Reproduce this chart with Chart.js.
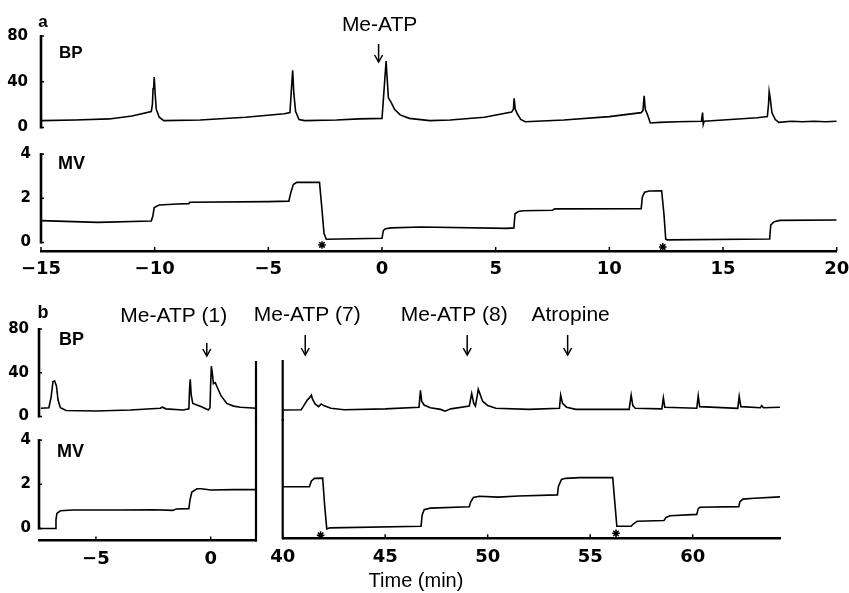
<!DOCTYPE html>
<html>
<head>
<meta charset="utf-8">
<script src="https://cdn.jsdelivr.net/npm/chart.js@4"></script>
<style>
  body { margin: 0; background: #fff; }
  #wrap { position: relative; width: 849px; height: 593px; }
  canvas { position: absolute; left: 0; top: 0; }
</style>
</head>
<body>
<div id="wrap">
  <canvas id="aBP" width="849" height="593"></canvas>
  <canvas id="aMV" width="849" height="593"></canvas>
  <canvas id="bLBP" width="849" height="593"></canvas>
  <canvas id="bLMV" width="849" height="593"></canvas>
  <canvas id="bRBP" width="849" height="593"></canvas>
  <canvas id="bRMV" width="849" height="593"></canvas>
</div>
<script>
// ---- data (time in min) ---------------------------------------------------

// panel a, blood pressure
const aBpT = [-15, -13.5, -12, -11, -10.15, -10.1, -10.07, -10.04, -10.02, -9.98, -9.93, -9.8, -9.6, -8, -6, -4.3, -4.05, -3.98, -3.93, -3.88, -3.8, -3.65, -3.4, -2, -1, 0, 0.08, 0.15, 0.18, 0.22, 0.28, 0.4, 0.55, 0.8, 1.2, 2.1, 3, 4.5, 5.7, 5.78, 5.81, 5.86, 5.95, 6.1, 6.3, 8, 10, 11.4, 11.48, 11.53, 11.58, 11.7, 11.8, 12.2, 13, 14.05, 14.1, 14.13, 14.17, 15, 16.5, 16.95, 17, 17.03, 17.08, 17.15, 17.3, 17.45, 18, 18.5, 19, 19.5, 20];
const aBpV = [6, 6.5, 7.5, 10, 14, 20, 34, 36, 44, 30, 16, 9, 6, 6.5, 9, 12, 13, 35, 50, 30, 14, 7, 6, 6.5, 7.5, 8, 30, 50, 58, 45, 26, 22, 16, 11, 8, 6, 6.5, 9, 13.5, 16, 25.5, 16, 12, 7, 5, 6.5, 9.5, 13, 15, 27.8, 16, 10, 4, 4.5, 5, 5.5, 13, 2.8, 5.5, 6.5, 8.5, 9.5, 20, 31.3, 25, 13, 7, 4.5, 5.5, 5, 5.5, 5, 5.5];

// panel a, minute volume
const aMvT = [-15, -12.5, -10.15, -10.08, -10.02, -9.8, -9, -8.5, -8.45, -5, -4.1, -4, -3.9, -3.75, -2.75, -2.65, -2.55, -2.45, 0, 0.06, 0.15, 0.4, 1.7, 5.5, 5.8, 5.85, 6, 6.2, 7.5, 7.6, 11.4, 11.45, 11.55, 11.75, 12.3, 12.4, 12.48, 12.55, 17.05, 17.1, 17.25, 17.5, 20];
const aMvV = [0.99, 0.91, 0.97, 1.2, 1.58, 1.7, 1.74, 1.76, 1.82, 1.85, 1.87, 2.3, 2.62, 2.72, 2.72, 1.6, 0.4, 0.15, 0.19, 0.55, 0.62, 0.66, 0.7, 0.64, 0.66, 1.3, 1.4, 1.44, 1.46, 1.52, 1.53, 2.05, 2.28, 2.33, 2.34, 1.3, 0.15, 0.12, 0.16, 0.8, 0.94, 1.0, 1.02];
const aStarT = [-2.64, 12.35];
const aStarV = [-0.11, -0.2];

// panel b (before), blood pressure and minute volume
const bLBpT = [-7.4, -7.05, -6.95, -6.87, -6.8, -6.72, -6.65, -6.55, -6.3, -5, -3.5, -2.2, -2.1, -1.95, -1.2, -0.95, -0.92, -0.89, -0.85, -0.78, -0.6, -0.4, -0.1, -0.03, 0, 0.03, 0.08, 0.12, 0.2, 0.3, 0.45, 0.7, 1, 1.3, 1.975];
const bLBpV = [7.5, 8, 18, 32, 32.5, 28, 15, 8, 5.5, 5, 6, 7.5, 8.5, 7, 6, 7, 25, 34, 20, 12, 10.5, 9, 6, 8, 30, 46, 38, 30, 31, 26, 19, 12, 9.5, 8.4, 7.5];
const bLMvT = [-7.48, -6.78, -6.74, -6.7, -6.55, -6, -4, -2.5, -1.65, -1.5, -0.95, -0.9, -0.82, -0.6, -0.4, 0, 1, 1.975];
const bLMvV = [0, 0, 0.4, 0.68, 0.8, 0.84, 0.84, 0.85, 0.82, 0.88, 0.9, 1.3, 1.65, 1.8, 1.8, 1.74, 1.76, 1.76];

// panel b (after), blood pressure and minute volume
const bRBpT = [40, 40.9, 41, 41.2, 41.3, 41.4, 41.45, 41.58, 41.75, 41.88, 42, 42.35, 43, 45, 46.65, 46.72, 46.78, 46.9, 47.2, 47.7, 47.92, 48.2, 49.1, 49.22, 49.32, 49.4, 49.5, 49.54, 49.6, 49.75, 50, 50.4, 52, 53.5, 53.56, 53.65, 53.85, 54.3, 56.9, 57, 57.08, 57.2, 58.5, 58.57, 58.64, 60.2, 60.27, 60.34, 62.2, 62.27, 62.35, 63.3, 63.37, 63.45, 64.26];
const bRBpV = [6, 6.2, 9, 15, 17, 19.5, 16, 11.5, 9, 11.5, 10, 7.5, 6.2, 7, 8.5, 24, 14, 10.5, 8, 6.5, 4.8, 7, 9.5, 21, 12, 9.5, 20, 25, 22, 14, 10, 7.5, 6.5, 7.5, 19.5, 12, 8.5, 6.5, 6.5, 19.5, 10, 7.5, 7, 17, 8.5, 7.5, 19, 9, 7.5, 18.5, 9, 8, 10, 8, 8.5];
const bRMvT = [40, 41.3, 41.4, 41.55, 41.95, 42.05, 42.15, 42.3, 46.75, 46.8, 46.9, 47.2, 49.1, 49.17, 49.3, 49.6, 50.5, 51.5, 53.4, 53.45, 53.6, 53.8, 54.5, 56.1, 56.3, 57, 57.1, 57.3, 58.6, 58.7, 58.9, 60.2, 60.27, 60.35, 62.25, 62.3, 62.45, 63, 64.26];
const bRMvV = [1.89, 1.89, 2.15, 2.27, 2.28, 1.0, -0.02, 0.03, 0.1, 0.6, 0.85, 0.92, 0.98, 1.2, 1.4, 1.46, 1.42, 1.47, 1.52, 1.9, 2.22, 2.27, 2.3, 2.3, 0.1, 0.1, 0.2, 0.33, 0.36, 0.5, 0.58, 0.64, 0.9, 0.96, 0.99, 1.2, 1.33, 1.37, 1.43];
const bRStarT = [41.85, 56.26];
const bRStarV = [-0.3, -0.22];

// drug injections
const aEventT = [-0.15];
const aEventLabels = ['Me-ATP'];
const bLEventT = [-0.17];
const bLEventLabels = ['Me-ATP (1)'];
const bREventT = [41.1, 49.0, 53.9];
const bREventLabels = ['Me-ATP (7)', 'Me-ATP (8)', 'Atropine'];

// tick labels
const aXTicks = [-15, -10, -5, 0, 5, 10, 15, 20];
const bLXTicks = [-5, 0];
const bRXTicks = [40, 45, 50, 55, 60];
const bpTicks = [0, 40, 80];
const mvTicks = [0, 2, 4];

// ---- drawing -----------------------------------------------------------

const W = 849, H = 593, YW = 40, XH = 30;
const FONT = "'Liberation Sans', Arial, Helvetica, sans-serif";
const NUMFONT = "'DejaVu Sans', Verdana, sans-serif";
Chart.defaults.font.family = FONT;
Chart.defaults.color = '#000';

const pts = (t, v) => t.map((x, i) => ({x, y: v[i]}));
const minus = v => (v < 0 ? '\u2212' + Math.abs(v) : '' + v);

const decor = {
    id: 'decor',
    afterDraw(chart, args, o) {
        const {ctx, chartArea: a} = chart;
        const xs = chart.scales.x, ys = chart.scales.y;
        ctx.save();
        ctx.strokeStyle = '#000';
        ctx.fillStyle = '#000';

        if (o.yLine) {
            ctx.lineWidth = 2.6;
            ctx.beginPath();
            ctx.moveTo(a.left, ys.getPixelForValue(o.yLine[0]) + 1);
            ctx.lineTo(a.left, ys.getPixelForValue(o.yLine[1]) - 1);
            ctx.stroke();
            ctx.lineWidth = 1.5;
            ys.ticks.forEach(t => {
                const py = ys.getPixelForValue(t.value);
                ctx.beginPath();
                ctx.moveTo(a.left, py);
                ctx.lineTo(a.left + 3, py);
                ctx.stroke();
            });
        }

        if (o.edge) {
            const px = xs.getPixelForValue(o.edge.x);
            ctx.lineWidth = 2.2;
            ctx.beginPath();
            ctx.moveTo(px, o.edge.from == null ? a.top - 1 : ys.getPixelForValue(o.edge.from));
            ctx.lineTo(px, a.bottom + 1);
            ctx.stroke();
        }

        if (o.xNubs) {
            ctx.lineWidth = 1.5;
            xs.ticks.forEach(t => {
                const px = xs.getPixelForValue(t.value);
                ctx.beginPath();
                ctx.moveTo(px, a.bottom);
                ctx.lineTo(px, a.bottom - 4);
                ctx.stroke();
            });
        }

        (o.arrows || []).forEach(ar => {
            const px = xs.getPixelForValue(ar.at);
            ctx.lineWidth = 1.5;
            ctx.beginPath();
            ctx.moveTo(px, ar.y1);
            ctx.lineTo(px, ar.y2);
            ctx.stroke();
            ctx.beginPath();
            ctx.moveTo(px - 4, ar.y2 - 7);
            ctx.lineTo(px, ar.y2);
            ctx.lineTo(px + 4, ar.y2 - 7);
            ctx.stroke();
            ctx.font = '21px ' + FONT;
            ctx.textAlign = 'center';
            ctx.textBaseline = 'middle';
            ctx.fillText(ar.label, px + ar.dx, ar.ly);
        });

        (o.texts || []).forEach(t => {
            ctx.font = t.font + ' ' + FONT;
            ctx.textAlign = t.align || 'left';
            ctx.textBaseline = 'middle';
            ctx.fillText(t.text, t.x, t.y);
        });
        ctx.restore();
    },
};

function makeChart(id, c) {
    const top = c.zero - c.y[1] * c.unit;
    const bottom = c.zero - c.y[0] * c.unit;
    const datasets = [{
        data: pts(c.t, c.v),
        showLine: true,
        borderColor: '#000',
        borderWidth: 1.6,
        pointRadius: 0,
        tension: 0,
    }];
    if (c.starT) {
        datasets.push({
            data: pts(c.starT, c.starV),
            pointStyle: 'star',
            pointRadius: 3.8,
            borderColor: '#000',
            backgroundColor: '#000',
            borderWidth: 1.5,
            clip: false,
        });
    }
    return new Chart(document.getElementById(id), {
        type: 'scatter',
        data: {datasets},
        options: {
            responsive: false,
            animation: false,
            events: [],
            layout: {
                autoPadding: false,
                padding: {
                    left: c.px[0] - (c.showY ? YW : 0),
                    right: W - c.px[1],
                    top: top,
                    bottom: H - bottom - (c.xTicks ? XH : 0),
                },
            },
            scales: {
                x: {
                    type: 'linear',
                    min: c.x[0],
                    max: c.x[1],
                    display: !!c.xTicks,
                    afterBuildTicks: s => { s.ticks = (c.xTicks || [c.x[0]]).map(value => ({value})); },
                    afterFit: s => { s.height = c.xTicks ? XH : 0; s.paddingLeft = 0; s.paddingRight = 0; },
                    grid: {drawOnChartArea: false, drawTicks: false},
                    border: {color: '#000', width: 2.4},
                    ticks: {
                        padding: 8, autoSkip: false, maxRotation: 0, callback: minus,
                        font: {family: NUMFONT, size: 18, weight: 'bold'},
                    },
                },
                y: {
                    type: 'linear',
                    min: c.y[0],
                    max: c.y[1],
                    display: !!c.showY,
                    afterBuildTicks: s => { s.ticks = c.yTicks.map(value => ({value})); },
                    afterFit: s => { s.width = c.showY ? YW : 0; s.paddingTop = 0; s.paddingBottom = 0; },
                    grid: {display: false, drawTicks: false},
                    border: {display: false},
                    ticks: {padding: c.yPad || 12, font: {family: NUMFONT, size: 15, weight: 'bold'}},
                },
            },
            plugins: {
                legend: {display: false},
                tooltip: {enabled: false},
                decor: c.decor,
            },
        },
        plugins: [decor],
    });
}

// ---- panel a ----
makeChart('aBP', {
    t: aBpT, v: aBpV, x: [-15, 20], px: [41, 836.7],
    y: [-3, 85], zero: 127.5, unit: 1.144, yTicks: bpTicks, showY: true, yPad: 13,
    decor: {
        yLine: [0, 80],
        arrows: aEventT.map((at, i) => ({at, label: aEventLabels[i], y1: 44, y2: 62, dx: 1, ly: 25})),
        texts: [
            {text: 'a', x: 43, y: 22, font: 'bold 17px', align: 'center'},
            {text: 'BP', x: 59, y: 53, font: 'bold 17px'},
        ],
    },
});
makeChart('aMV', {
    t: aMvT, v: aMvV, starT: aStarT, starV: aStarV, x: [-15, 20], px: [41, 836.7],
    y: [-0.385, 4.3], zero: 242.5, unit: 22.1, yTicks: mvTicks, showY: true, yPad: 10,
    xTicks: aXTicks,
    decor: {
        yLine: [0, 4], xNubs: true,
        texts: [{text: 'MV', x: 58, y: 164, font: 'bold 18px'}],
    },
});

// ---- panel b, left part ----
makeChart('bLBP', {
    t: bLBpT, v: bLBpV, x: [-7.48, 1.975], px: [39, 256],
    y: [-3, 85], zero: 416.5, unit: 1.094, yTicks: bpTicks, showY: true, yPad: 10,
    decor: {
        yLine: [0, 80], edge: {x: 1.975, from: 50.7},
        arrows: bLEventT.map((at, i) => ({at, label: bLEventLabels[i], y1: 343, y2: 356, dx: -33, ly: 316})),
        texts: [
            {text: 'b', x: 43, y: 313, font: 'bold 18px', align: 'center'},
            {text: 'BP', x: 59, y: 340, font: 'bold 18px'},
        ],
    },
});
makeChart('bLMV', {
    t: bLMvT, v: bLMvV, x: [-7.48, 1.975], px: [39, 256],
    y: [-0.543, 4.9], zero: 528.5, unit: 22.1, yTicks: mvTicks, showY: true, yPad: 8,
    xTicks: bLXTicks,
    decor: {
        yLine: [0, 4], xNubs: true, edge: {x: 1.975, from: null},
        texts: [{text: 'MV', x: 57, y: 452, font: 'bold 18px'}],
    },
});

// ---- panel b, right part ----
const bRDx = [2, -13, 3];
makeChart('bRBP', {
    t: bRBpT, v: bRBpV, x: [40, 64.26], px: [282.7, 780],
    y: [-3, 85], zero: 416.5, unit: 1.094, yTicks: bpTicks,
    decor: {
        edge: {x: 40, from: 51.6},
        arrows: bREventT.map((at, i) => ({at, label: bREventLabels[i], y1: 335, y2: 355, dx: bRDx[i], ly: 315})),
    },
});
makeChart('bRMV', {
    t: bRMvT, v: bRMvV, starT: bRStarT, starV: bRStarV, x: [40, 64.26], px: [282.7, 780],
    y: [-0.443, 4.9], zero: 528.5, unit: 22.1, yTicks: mvTicks,
    xTicks: bRXTicks,
    decor: {
        xNubs: true, edge: {x: 40, from: null},
        texts: [{text: 'Time (min)', x: 416, y: 581, font: '20px', align: 'center'}],
    },
});
</script>
</body>
</html>
